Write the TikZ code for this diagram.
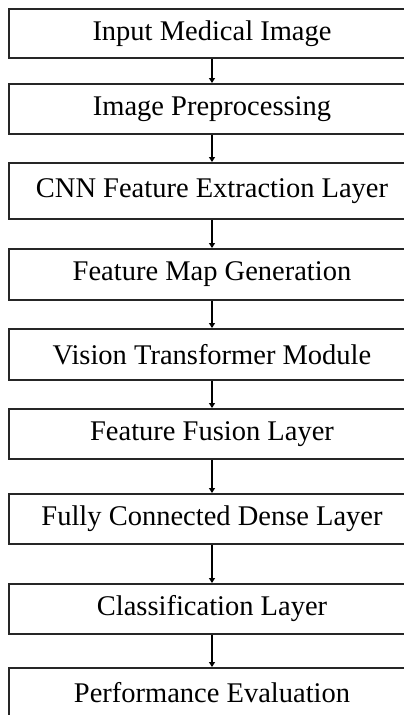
\documentclass[tikz,border=0pt]{standalone}
\usepackage{fontspec}
\setmainfont{Liberation Serif}
\usetikzlibrary{arrows.meta}
\begin{document}
\begin{tikzpicture}[x=1pt,y=-1pt,
  stage/.style={draw=black!85, line width=1.8pt, fill=white,
    minimum width=406pt, inner sep=0pt, anchor=north,
    font=\fontsize{28.5}{31}\selectfont},
  flow/.style={draw=black, line width=1.3pt,
    -{Triangle[width=6pt,length=5pt]}}]
\useasboundingbox (0,0) rectangle (404,715);
\clip (0,0) rectangle (404,715);
\node[stage, minimum height=49pt] (s1) at (212,8)   {Input Medical Image};
\node[stage, minimum height=50pt] (s2) at (212,83)  {Image Preprocessing};
\node[stage, minimum height=56pt] (s3) at (212,162) {CNN Feature Extraction Layer};
\node[stage, minimum height=51pt] (s4) at (212,248) {Feature Map Generation};
\node[stage, minimum height=51pt] (s5) at (212,328) {Vision Transformer Module};
\node[stage, minimum height=50pt] (s6) at (212,408) {Feature Fusion Layer};
\node[stage, minimum height=50pt] (s7) at (212,493) {Fully Connected Dense Layer};
\node[stage, minimum height=50pt] (s8) at (212,583) {Classification Layer};
\node[stage, minimum height=50pt] (s9) at (212,667) {Performance Evaluation};
\foreach \a/\b in {s1/s2,s2/s3,s3/s4,s4/s5,s5/s6,s6/s7,s7/s8,s8/s9}
  \draw[flow] (\a.south) -- (\b.north);
\end{tikzpicture}
\end{document}
